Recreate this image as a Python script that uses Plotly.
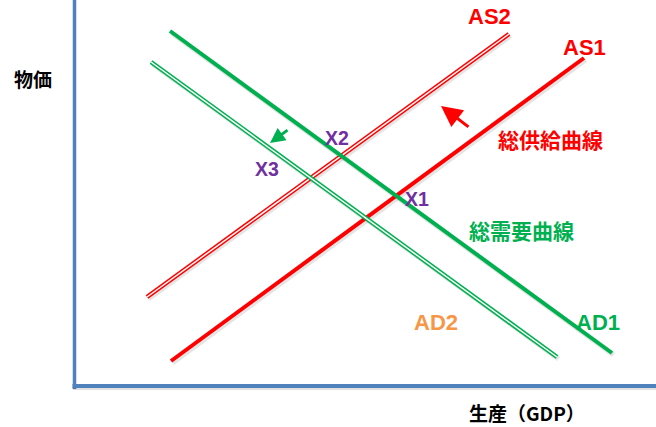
import plotly.graph_objects as go

# Curves (x = output, y = price level), in chart units
as1_x = [95, 508]; as1_y = [23, 326]
as2_x = [71, 433]; as2_y = [87, 350]
ad1_x = [94, 536]; ad1_y = [353, 31]
ad2_x = [75, 481]; ad2_y = [322, 27]

# Labels
curve_labels = ["AS2", "AS1", "総供給曲線", "総需要曲線", "AD1", "AD2"]
curve_label_x = [413, 508, 474, 445, 522, 360]
curve_label_y = [368, 337, 245, 154, 62, 62]
curve_label_colors = ["#ff0000", "#ff0000", "#ff0000", "#00b050", "#00b050", "#f79646"]

point_labels = ["X1", "X2", "X3"]
point_label_x = [341, 261, 191]
point_label_y = [185, 246, 215]

# Shift arrows: tail -> head
arrow_tail_x = [394, 213]; arrow_tail_y = [256, 255]
arrow_head_x = [365, 194]; arrow_head_y = [278, 241]
arrow_colors = ["#ff0000", "#00b050"]
arrow_sizes = [1.4, 1.0]

x_title = "生産（GDP）"
y_title = "物価"

RED = "#ff0000"
GREEN = "#00b050"
AXIS = "#4f81bd"
JP_FONT = "Noto Sans CJK JP"
LAT_FONT = "Liberation Sans, Arial, Noto Sans CJK JP"

fig = go.Figure()

def add_line(x, y, color, double):
    # soft shadow
    fig.add_trace(go.Scatter(x=[v + 1.5 for v in x], y=[v - 2 for v in y], mode="lines",
                             line=dict(color="rgba(0,0,0,0.10)", width=5),
                             hoverinfo="skip", showlegend=False))
    fig.add_trace(go.Scatter(x=x, y=y, mode="lines",
                             line=dict(color=color, width=4.5 if double else 4),
                             hoverinfo="skip", showlegend=False))
    if double:
        fig.add_trace(go.Scatter(x=x, y=y, mode="lines",
                                 line=dict(color="white", width=1.5),
                                 hoverinfo="skip", showlegend=False))

add_line(as1_x, as1_y, RED, False)
add_line(as2_x, as2_y, RED, True)
add_line(ad1_x, ad1_y, GREEN, False)
add_line(ad2_x, ad2_y, GREEN, True)

annotations = []
for t, x, y, c in zip(curve_labels, curve_label_x, curve_label_y, curve_label_colors):
    is_jp = not t.isascii()
    annotations.append(dict(x=x, y=y, xref="x", yref="y", text=t, showarrow=False,
                            font=dict(family=JP_FONT if is_jp else LAT_FONT,
                                      size=21 if is_jp else 22, color=c, weight=700)))
for t, x, y in zip(point_labels, point_label_x, point_label_y):
    annotations.append(dict(x=x, y=y, xref="x", yref="y", text=t, showarrow=False,
                            font=dict(family=LAT_FONT, size=19.5, color="#7030a0", weight=700)))
for tx, ty, hx, hy, c, s in zip(arrow_tail_x, arrow_tail_y, arrow_head_x, arrow_head_y,
                                arrow_colors, arrow_sizes):
    annotations.append(dict(x=hx, y=hy, ax=tx, ay=ty, xref="x", yref="y", axref="x", ayref="y",
                            text="", showarrow=True, arrowhead=2, arrowsize=s,
                            arrowwidth=3, arrowcolor=c))
# axis titles (outside the plotting area -> paper coordinates)
annotations.append(dict(x=-43 / 580, y=306 / 384, xref="paper", yref="paper", text=y_title,
                        showarrow=False, xanchor="center", yanchor="middle",
                        font=dict(family=JP_FONT, size=19, color="black", weight=700)))
annotations.append(dict(x=451 / 580, y=-28 / 384, xref="paper", yref="paper", text=x_title,
                        showarrow=False, xanchor="center", yanchor="middle",
                        font=dict(family=JP_FONT, size=19, color="black", weight=700)))

shapes = [
    # vertical (price) axis
    dict(type="line", xref="paper", yref="paper", x0=-1.5 / 580, x1=-1.5 / 580,
         y0=-5 / 384, y1=1.01, line=dict(color=AXIS, width=3.5)),
    # horizontal (output) axis shadow + line
    dict(type="line", xref="paper", yref="paper", x0=-3.5 / 580, x1=1.0,
         y0=-4.5 / 384, y1=-4.5 / 384, line=dict(color="rgba(0,0,0,0.12)", width=3)),
    dict(type="line", xref="paper", yref="paper", x0=-3.5 / 580, x1=1.0,
         y0=-2 / 384, y1=-2 / 384, line=dict(color=AXIS, width=4)),
]

fig.update_layout(
    width=656, height=427,
    margin=dict(l=76, r=0, t=0, b=43),
    paper_bgcolor="white", plot_bgcolor="white",
    annotations=annotations,
    shapes=shapes,
    xaxis=dict(range=[0, 580], showgrid=False, zeroline=False, showticklabels=False,
               ticks="", showline=False, fixedrange=True),
    yaxis=dict(range=[0, 384], showgrid=False, zeroline=False, showticklabels=False,
               ticks="", showline=False, fixedrange=True),
)

fig.write_html("out.html")
